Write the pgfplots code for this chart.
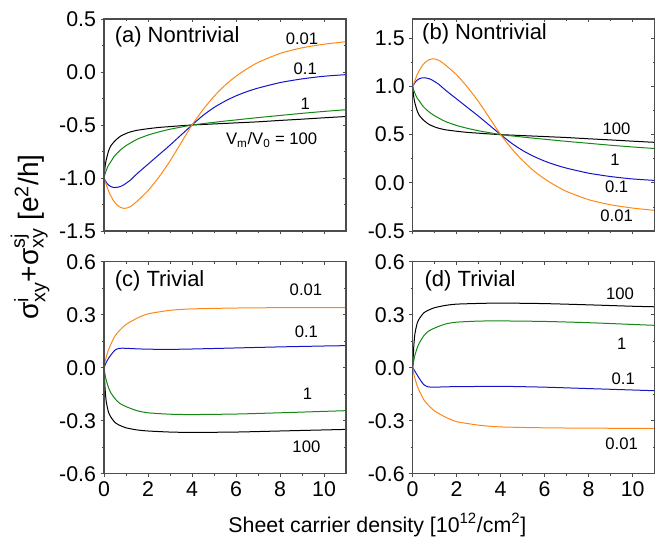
\documentclass[border=0pt]{standalone}
\usepackage{amsmath}
\usepackage{fontspec}
\setmainfont{Liberation Sans}
\usepackage{pgfplots}
\usepackage{pgfplotstable}
\pgfplotsset{compat=1.18}

\definecolor{corange}{RGB}{255,135,20}
\definecolor{cblue}{RGB}{20,20,200}
\definecolor{cgreen}{RGB}{20,135,20}

% columns: x, black (100), green (1), blue (0.1), orange (0.01)
\pgfplotstableread{
x     k       g       b       o
0     -1.00   -1.00   -1.00   -1.00
0.05  -0.89   -0.96   -1.02   -1.03
0.1   -0.83   -0.93   -1.04   -1.06
0.2   -0.75   -0.88   -1.065  -1.12
0.3   -0.70   -0.85   -1.08   -1.165
0.45  -0.66   -0.80   -1.09   -1.22
0.6   -0.63   -0.765  -1.088  -1.255
0.75  -0.605  -0.735  -1.08   -1.277
0.9   -0.59   -0.71   -1.065  -1.286
1.0   -0.58   -0.695  -1.05   -1.285
1.2   -0.565  -0.67   -1.02   -1.27
1.5   -0.55   -0.635  -0.96   -1.22
2.0   -0.535  -0.595  -0.87   -1.12
2.5   -0.523  -0.565  -0.78   -0.99
3.0   -0.515  -0.54   -0.69   -0.84
3.5   -0.507  -0.52   -0.595  -0.67
4.0   -0.50   -0.50   -0.50   -0.50
4.5   -0.495  -0.487  -0.41   -0.355
5.0   -0.49   -0.475  -0.335  -0.23
5.5   -0.485  -0.463  -0.275  -0.125
6.0   -0.48   -0.452  -0.225  -0.04
6.5   -0.475  -0.441  -0.185   0.03
7.0   -0.47   -0.43   -0.152   0.09
8.0   -0.457  -0.41   -0.10    0.175
9.0   -0.445  -0.39   -0.065   0.228
10.0  -0.432  -0.372  -0.04    0.262
11.0  -0.42   -0.356  -0.025   0.286
}\tabA

\pgfplotstableread{
x     k       g       b       o
0     1.00    1.00    1.00    1.00
0.05  0.89    0.96    1.02    1.03
0.1   0.83    0.93    1.04    1.06
0.2   0.75    0.88    1.065   1.12
0.3   0.70    0.85    1.08    1.165
0.45  0.66    0.80    1.09    1.22
0.6   0.63    0.765   1.088   1.255
0.75  0.605   0.735   1.08    1.277
0.9   0.59    0.71    1.065   1.286
1.0   0.58    0.695   1.05    1.285
1.2   0.565   0.67    1.02    1.27
1.5   0.55    0.635   0.96    1.22
2.0   0.535   0.595   0.87    1.12
2.5   0.523   0.565   0.78    0.99
3.0   0.515   0.54    0.69    0.84
3.5   0.507   0.52    0.595   0.67
4.0   0.50    0.50    0.50    0.50
4.5   0.495   0.487   0.41    0.355
5.0   0.49    0.475   0.335   0.23
5.5   0.485   0.463   0.275   0.125
6.0   0.48    0.452   0.225   0.04
6.5   0.475   0.441   0.185  -0.03
7.0   0.47    0.43    0.152  -0.09
8.0   0.457   0.41    0.10   -0.175
9.0   0.445   0.39    0.065  -0.228
10.0  0.432   0.372   0.04   -0.262
11.0  0.42    0.356   0.025  -0.286
}\tabB

\pgfplotstableread{
x     k       g       b      o
0     0.000   0.000   0.000  0.000
0.05 -0.120  -0.040   0.015  0.035
0.1  -0.190  -0.070   0.030  0.060
0.2  -0.250  -0.110   0.052  0.100
0.3  -0.277  -0.140   0.070  0.130
0.5  -0.310  -0.175   0.100  0.180
0.7  -0.325  -0.200   0.110  0.210
1.0  -0.340  -0.220   0.110  0.245
1.5  -0.352  -0.243   0.107  0.280
2.0  -0.358  -0.255   0.105  0.305
3.0  -0.364  -0.263   0.104  0.325
4.0  -0.366  -0.265   0.106  0.333
6.0  -0.364  -0.262   0.112  0.338
8.0  -0.358  -0.255   0.118  0.340
10.0 -0.352  -0.247   0.123  0.340
11.0 -0.349  -0.243   0.125  0.340
}\tabC

\pgfplotstableread{
x     k       g       b       o
0     0.000   0.000   0.000   0.000
0.05  0.120   0.040  -0.010  -0.035
0.1   0.190   0.070  -0.020  -0.060
0.2   0.250   0.110  -0.040  -0.100
0.3   0.277   0.140  -0.060  -0.130
0.5   0.310   0.180  -0.095  -0.180
0.7   0.325   0.205  -0.108  -0.210
1.0   0.340   0.225  -0.110  -0.245
1.5   0.353   0.248  -0.108  -0.280
2.0   0.360   0.258  -0.107  -0.305
3.0   0.364   0.264  -0.106  -0.325
4.0   0.366   0.265  -0.105  -0.335
6.0   0.363   0.262  -0.110  -0.340
8.0   0.356   0.255  -0.118  -0.342
10.0  0.348   0.245  -0.126  -0.343
11.0  0.345   0.240  -0.130  -0.343
}\tabD

\newcommand{\ticksize}{\fontsize{16}{18}\selectfont}
\newcommand{\titlesize}{\fontsize{16.5}{19}\selectfont}
\newcommand{\cursize}{\fontsize{12.5}{14}\selectfont}

\pgfplotsset{
  panel/.style={
    scale only axis, width=181.5pt, height=159pt, anchor=north west,
    xmin=0, xmax=11, xtick={0,2,4,6,8,10},
    minor x tick num=1, minor y tick num=1,
    tick align=outside, xtick pos=left, ytick pos=left,
    major tick length=2.5pt, minor tick length=1.5pt,
    axis line style={black!70, line width=0.8pt},
    every tick/.style={black!70, line width=0.6pt},
    tick label style={font=\ticksize},
    /pgf/number format/assume math mode=true,
    yticklabel style={/pgf/number format/.cd, fixed, fixed zerofill, precision=1},
    every axis plot/.append style={line width=0.75pt, smooth, tension=0.4, no marks},
  },
  mirror/.style={
    panel, xtick pos=right, ytick pos=right, tick align=inside,
    xticklabels={}, yticklabels={},
  },
}

\begin{document}
\begin{tikzpicture}
\path (0,0) rectangle (498pt,-403.5pt);

% (a)
\begin{axis}[panel, at={(78pt,-14.25pt)}, ymin=-1.5, ymax=0.5,
  ytick={-1.5,-1.0,-0.5,0,0.5}, xticklabels={}]
\addplot[black]   table[x=x,y=k] {\tabA};
\addplot[cgreen]  table[x=x,y=g] {\tabA};
\addplot[cblue]   table[x=x,y=b] {\tabA};
\addplot[corange] table[x=x,y=o] {\tabA};
\node[anchor=west, font=\titlesize] at (rel axis cs:0.025,0.917) {(a) Nontrivial};
\node[font=\cursize] at (axis cs:9.0,0.31) {0.01};
\node[font=\cursize] at (axis cs:9.15,0.03) {0.1};
\node[font=\cursize] at (axis cs:9.15,-0.295) {1};
\node[font=\cursize] at (axis cs:7.62,-0.642) {V$_\text{m}$/V$_\text{0}$ = 100};
\end{axis}
\begin{axis}[mirror, at={(78pt,-14.25pt)}, ymin=-1.5, ymax=0.5,
  ytick={-1.5,-1.0,-0.5,0,0.5}]
\end{axis}

% (b)
\begin{axis}[panel, at={(309.5pt,-14.25pt)}, ymin=-0.5, ymax=1.7,
  ytick={-0.5,0,0.5,1.0,1.5}, xticklabels={}]
\addplot[black]   table[x=x,y=k] {\tabB};
\addplot[cgreen]  table[x=x,y=g] {\tabB};
\addplot[cblue]   table[x=x,y=b] {\tabB};
\addplot[corange] table[x=x,y=o] {\tabB};
\node[anchor=west, font=\titlesize] at (rel axis cs:0.02,0.928) {(b) Nontrivial};
\node[font=\cursize] at (axis cs:9.27,0.562) {100};
\node[font=\cursize] at (axis cs:9.2,0.234) {1};
\node[font=\cursize] at (axis cs:9.27,-0.042) {0.1};
\node[font=\cursize] at (axis cs:9.27,-0.346) {0.01};
\end{axis}
\begin{axis}[mirror, at={(309.5pt,-14.25pt)}, ymin=-0.5, ymax=1.7,
  ytick={-0.5,0,0.5,1.0,1.5}]
\end{axis}

% (c)
\begin{axis}[panel, at={(78pt,-196.3pt)}, ymin=-0.6, ymax=0.6,
  ytick={-0.6,-0.3,0,0.3,0.6}]
\addplot[black]   table[x=x,y=k] {\tabC};
\addplot[cgreen]  table[x=x,y=g] {\tabC};
\addplot[cblue]   table[x=x,y=b] {\tabC};
\addplot[corange] table[x=x,y=o] {\tabC};
\node[anchor=west, font=\titlesize] at (rel axis cs:0.025,0.909) {(c) Trivial};
\node[font=\cursize] at (axis cs:9.18,0.444) {0.01};
\node[font=\cursize] at (axis cs:9.2,0.204) {0.1};
\node[font=\cursize] at (axis cs:9.25,-0.149) {1};
\node[font=\cursize] at (axis cs:9.2,-0.447) {100};
\end{axis}
\begin{axis}[mirror, at={(78pt,-196.3pt)}, ymin=-0.6, ymax=0.6,
  ytick={-0.6,-0.3,0,0.3,0.6}]
\end{axis}

% (d)
\begin{axis}[panel, at={(309.5pt,-196.3pt)}, ymin=-0.6, ymax=0.6,
  ytick={-0.6,-0.3,0,0.3,0.6}]
\addplot[black]   table[x=x,y=k] {\tabD};
\addplot[cgreen]  table[x=x,y=g] {\tabD};
\addplot[cblue]   table[x=x,y=b] {\tabD};
\addplot[corange] table[x=x,y=o] {\tabD};
\node[anchor=west, font=\titlesize] at (rel axis cs:0.03,0.911) {(d) Trivial};
\node[font=\cursize] at (axis cs:9.42,0.421) {100};
\node[font=\cursize] at (axis cs:9.5,0.138) {1};
\node[font=\cursize] at (axis cs:9.57,-0.06) {0.1};
\node[font=\cursize] at (axis cs:9.5,-0.428) {0.01};
\end{axis}
\begin{axis}[mirror, at={(309.5pt,-196.3pt)}, ymin=-0.6, ymax=0.6,
  ytick={-0.6,-0.3,0,0.3,0.6}]
\end{axis}

% shared axis titles
\node[rotate=90, font=\fontsize{21}{24}\selectfont] at (22.5pt,-177.75pt)
  {σ$^{\text{i}}_{\text{xy}}$+σ$^{\text{sj}}_{\text{xy}}$ [e$^{\text{2}}$/h]};
\node[font=\fontsize{16}{18}\selectfont] at (283pt,-393.75pt)
  {Sheet carrier density [10$^{\text{12}}$/cm$^{\text{2}}$]};
\end{tikzpicture}
\end{document}
